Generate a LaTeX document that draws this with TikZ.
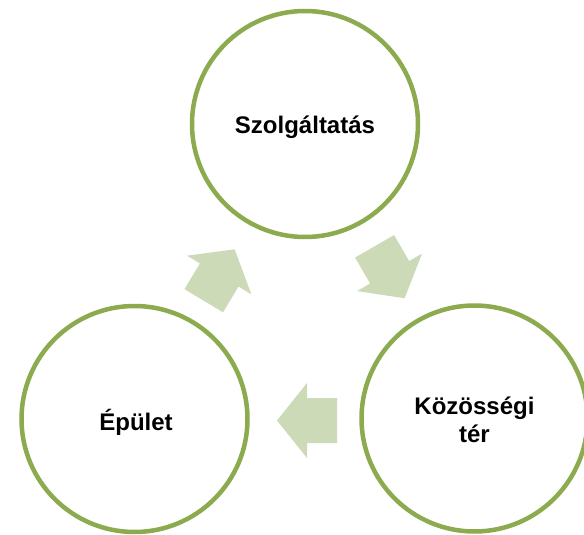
\documentclass[tikz,border=0pt]{standalone}
\usepackage{fontspec}
\setmainfont{Liberation Sans}
\definecolor{ringgreen}{HTML}{8CAB4F}
\definecolor{arrowfill}{HTML}{CCDAB8}
\begin{document}
\begin{tikzpicture}[x=1pt,y=-1pt,
  ring/.style={circle,draw=ringgreen,line width=4.5pt,fill=white,minimum size=226pt,inner sep=0pt},
  lbl/.style={font=\fontsize{24}{28}\selectfont\bfseries,align=center,text=black},
  blockarrow/.pic={\fill[arrowfill] (30,0) -- (0,37.5) -- (0,22.5) -- (-30,22.5) -- (-30,-22.5) -- (0,-22.5) -- (0,-37.5) -- cycle;}]
\useasboundingbox (0,0) rectangle (584,535);
\clip (0,0) rectangle (584,535);
% circles
\node[ring] (szolg) at (305,124) {};
\node[ring] (kozos) at (474.5,418.5) {};
\node[ring] (epulet) at (134.5,419) {};
% labels
\node[lbl] (szolgT) at ([shift={(0,3)}]szolg.center) {Szolgáltatás};
\node[lbl] (kozosT) at ([shift={(0,1)}]kozos.center) {Közösségi\\tér};
\node[lbl] (epuletT) at ([shift={(1.5,3)}]epulet.center) {Épület};
% block arrows
\pic[rotate=59] at (219.2,275) {blockarrow};
\pic[rotate=-60] at (389.6,272.3) {blockarrow};
\pic[rotate=180] at (307,420.5) {blockarrow};
\end{tikzpicture}
\end{document}
